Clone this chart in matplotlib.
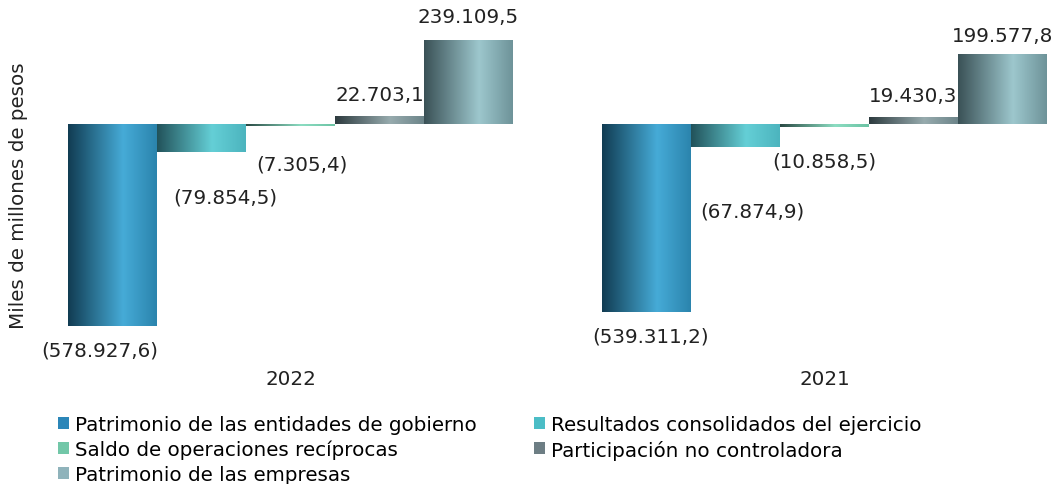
import matplotlib.pyplot as plt
import numpy as np
from matplotlib.colors import LinearSegmentedColormap
from matplotlib.patches import Patch
from matplotlib.transforms import offset_copy

# data
years = ["2022", "2021"]
series = ["Patrimonio de las entidades de gobierno",
          "Resultados consolidados del ejercicio",
          "Saldo de operaciones recíprocas",
          "Participación no controladora",
          "Patrimonio de las empresas"]
values_2022 = [-578927.6, -79854.5, -7305.4, 22703.1, 239109.5]
values_2021 = [-539311.2, -67874.9, -10858.5, 19430.3, 199577.8]
labels_2022 = ["(578.927,6)", "(79.854,5)", "(7.305,4)", "22.703,1", "239.109,5"]
labels_2021 = ["(539.311,2)", "(67.874,9)", "(10.858,5)", "19.430,3", "199.577,8"]

# gradient stops: dark left, bright peak, softer right
grads = [("#113c52", "#46abd7", "#2b84ad"),
         ("#22525a", "#64cfd6", "#4cb4be"),
         ("#2a4a44", "#8cddc2", "#6cc3a4"),
         ("#2d3b3f", "#97abae", "#6d858a"),
         ("#3a5156", "#9dc7cd", "#6e9399")]
legend_cols = ["#2b86b8", "#4bbdc6", "#72c7a8", "#6d7e84", "#8fb3bb"]
# label offsets in points (dx, dy) per bar
offs_2022 = [(-9, -17), (17, -33), (8, -27), (0, 15), (0, 17)]
offs_2021 = [(3, -17), (12, -46), (0, -24), (0, 15), (0, 13)]

plt.rcParams['font.family'] = "DejaVu Sans"
fs = 14.3

fig = plt.figure(figsize=(10.55, 4.85), dpi=100)
ax = fig.add_axes([68/1055, 158/485, 979/1055, 286/485])

groups = [(0, values_2022, labels_2022, offs_2022),
          (6, values_2021, labels_2021, offs_2021)]
for g, (start, vals, labs, offs) in enumerate(groups):
    xs = start + np.arange(len(vals))
    bars = ax.bar(xs, vals, width=1.0, color="none", edgecolor="none")
    for i, b in enumerate(bars):
        x0, y0 = b.get_x(), min(0, vals[i])
        cmap = LinearSegmentedColormap.from_list(
            "g%d" % i, [(0, grads[i][0]), (0.62, grads[i][1]), (1, grads[i][2])])
        grad = np.linspace(0, 1, 256).reshape(1, -1)
        im = ax.imshow(grad, cmap=cmap, aspect="auto",
                       extent=[x0, x0 + b.get_width(), y0, y0 + abs(vals[i])],
                       zorder=2)
        im.set_clip_path(b)
        dx, dy = offs[i]
        tr = offset_copy(ax.transData, fig=fig, x=dx, y=dy, units="points")
        ax.text(xs[i], vals[i], labs[i], transform=tr, ha="center",
                va="center", fontsize=fs, color="#222222", clip_on=False)
    ax.text(start + 2, -578927.6, years[g],
            transform=offset_copy(ax.transData, fig=fig, x=0, y=-38, units="points"),
            ha="center", va="center", fontsize=fs, color="#222222")

ax.set_xlim(-0.5, 10.5)
ax.set_ylim(-578927.6, 239109.5)
ax.axis("off")

fig.text(19/1055, 1 - 196/485, "Miles de millones de pesos", rotation=90,
         ha="center", va="center", fontsize=fs, color="#222222")

# row-wise order in two columns
order = [0, 2, 4, 1, 3]
handles = [Patch(facecolor=legend_cols[k], edgecolor="none") for k in order]
fig.legend(handles, [series[k] for k in order], loc="upper left",
           bbox_to_anchor=(50/1055, 1 - 408/485),
           ncol=2, frameon=False, fontsize=fs, handlelength=0.55,
           handleheight=0.55, handletextpad=0.3, columnspacing=2.9,
           labelspacing=0.28, borderaxespad=0)

fig.savefig("out.png", dpi=100)
